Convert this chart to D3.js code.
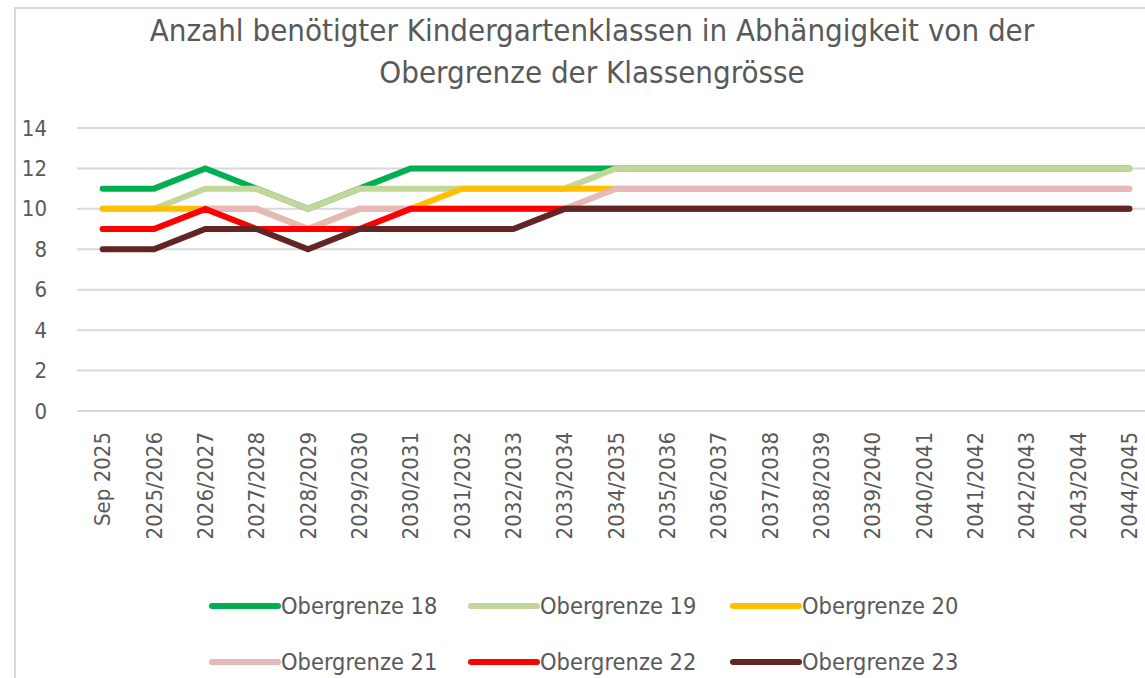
<!DOCTYPE html>
<html><head><meta charset="utf-8">
<script src="https://cdn.jsdelivr.net/npm/d3@7"></script>
<style>
html,body{margin:0;padding:0;background:#fff;}
svg{display:block;}
text{font-family:"DejaVu Sans Condensed","Liberation Sans Narrow","Roboto",sans-serif;fill:#595959;}
</style></head>
<body>
<svg id="chart" width="1145" height="678"></svg>
<script>
const categories = ["Sep 2025","2025/2026","2026/2027","2027/2028","2028/2029","2029/2030","2030/2031","2031/2032","2032/2033","2033/2034","2034/2035","2035/2036","2036/2037","2037/2038","2038/2039","2039/2040","2040/2041","2041/2042","2042/2043","2043/2044","2044/2045"];
const seriesNames = ["Obergrenze 18","Obergrenze 19","Obergrenze 20","Obergrenze 21","Obergrenze 22","Obergrenze 23"];
const seriesColors = ["#00b050","#c4d79b","#ffc000","#e6b8b7","#ff0000","#632523"];
const ober18 = [11,11,12,11,10,11,12,12,12,12,12,12,12,12,12,12,12,12,12,12,12];
const ober19 = [10,10,11,11,10,11,11,11,11,11,12,12,12,12,12,12,12,12,12,12,12];
const ober20 = [10,10,10,10,9,10,10,11,11,11,11,11,11,11,11,11,11,11,11,11,11];
const ober21 = [9,9,10,10,9,10,10,10,10,10,11,11,11,11,11,11,11,11,11,11,11];
const ober22 = [9,9,10,9,9,9,10,10,10,10,10,10,10,10,10,10,10,10,10,10,10];
const ober23 = [8,8,9,9,8,9,9,9,9,10,10,10,10,10,10,10,10,10,10,10,10];
const yTicks = [0,2,4,6,8,10,12,14];
const titleLines = ["Anzahl benötigter Kindergartenklassen in Abhängigkeit von der","Obergrenze der Klassengrösse"];

const seriesValues = [ober18,ober19,ober20,ober21,ober22,ober23];
const svg = d3.select("#chart");

// outer border (cropped chart frame)
svg.append("path").attr("d","M15,680 L15,8 L1150,8").attr("fill","none").attr("stroke","#d9d9d9").attr("stroke-width",2);

const x = d3.scaleBand().domain(categories).range([77,1155]);
const y = d3.scaleLinear().domain([0,14]).range([411,128]);
const cx = c => x(c) + x.bandwidth()/2;

// title
const tt = svg.append("g").selectAll("text").data(titleLines).join("text")
  .attr("x",592).attr("y",(d,i)=>41+i*42)
  .attr("text-anchor","middle").attr("font-size",26).text(d=>d);
const w0 = tt.node().getComputedTextLength();
tt.attr("font-size", 26*885/w0);

// gridlines
const yAxis = d3.axisLeft(y).tickValues(yTicks).tickSize(0).tickPadding(30);
const gAxis = svg.append("g").attr("transform","translate(77,0)").call(yAxis);
gAxis.select(".domain").remove();
gAxis.selectAll("text").attr("font-size",22).attr("fill","#595959").attr("font-family",null);
svg.append("g").selectAll("line").data(yTicks).join("line")
  .attr("x1",77).attr("x2",1155).attr("y1",d=>y(d)).attr("y2",d=>y(d))
  .attr("stroke","#d9d9d9").attr("stroke-width",2);

// x labels
svg.append("g").selectAll("text").data(categories).join("text")
  .attr("transform",d=>`translate(${cx(d)},432) rotate(-90)`)
  .attr("text-anchor","end").attr("dy","0.35em").attr("font-size",22).text(d=>d);

// lines
const line = d3.line().x((d,i)=>cx(categories[i])).y(d=>y(d));
svg.append("g").selectAll("path").data(seriesValues).join("path")
  .attr("d",d=>line(d)).attr("fill","none")
  .attr("stroke",(d,i)=>seriesColors[i]).attr("stroke-width",6)
  .attr("stroke-linecap","round").attr("stroke-linejoin","miter");

// legend
const legX = [212,471,733];
const legY = [606,662];
const leg = svg.append("g").selectAll("g").data(seriesNames).join("g")
  .attr("transform",(d,i)=>`translate(${legX[i%3]},${legY[Math.floor(i/3)]})`);
leg.append("line").attr("x1",0).attr("x2",66).attr("y1",0).attr("y2",0)
  .attr("stroke",(d,i)=>seriesColors[i]).attr("stroke-width",6).attr("stroke-linecap","round");
leg.append("text").attr("x",69).attr("dy","0.35em").attr("font-size",23.4).text(d=>d);
</script>
</body></html>
